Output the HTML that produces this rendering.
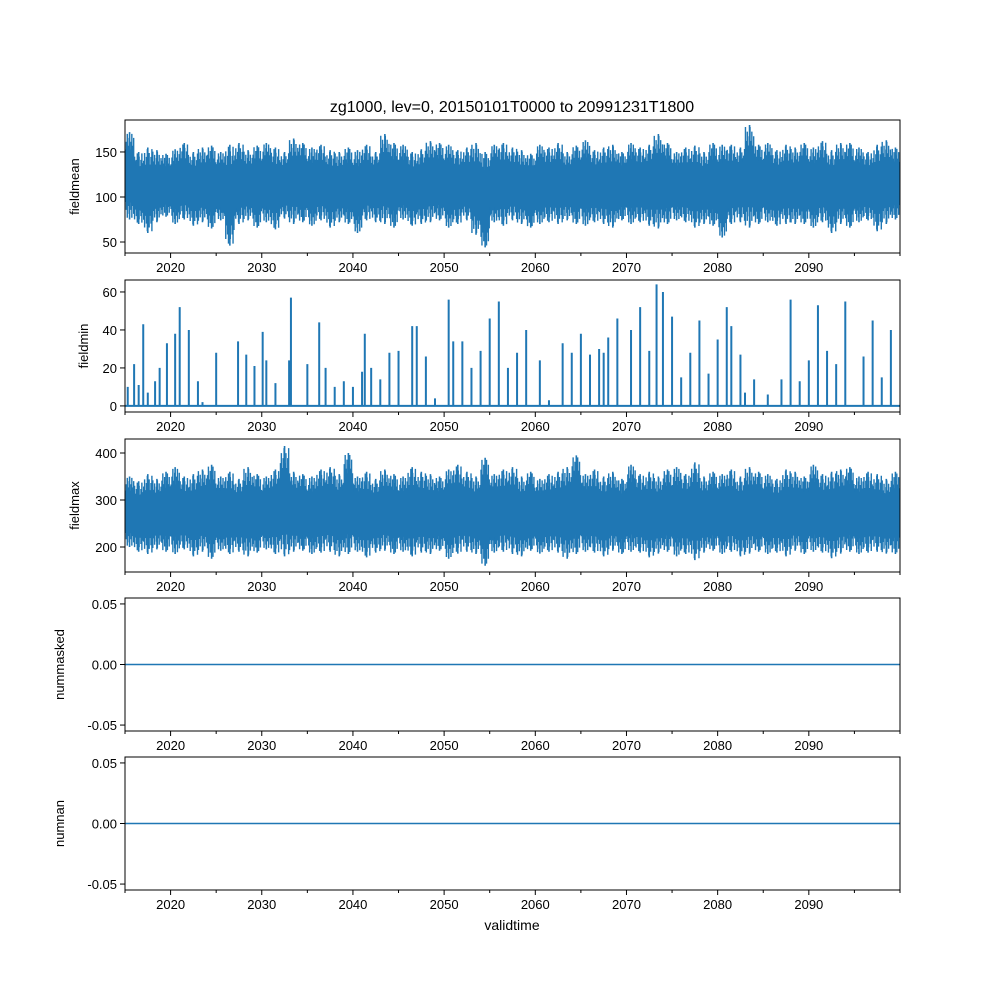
<!DOCTYPE html>
<html><head><meta charset="utf-8"><style>
html,body{margin:0;padding:0;background:#fff}
svg text{font-family:"Liberation Sans","DejaVu Sans",sans-serif;fill:#000}
</style></head><body>
<svg id="chart" width="1000" height="1000" viewBox="0 0 1000 1000" xmlns="http://www.w3.org/2000/svg">
<rect width="1000" height="1000" fill="#fff"/>
<text x="512" y="112" font-size="16" text-anchor="middle">zg1000, lev=0, 20150101T0000 to 20991231T1800</text>
<text x="512" y="930" font-size="14" text-anchor="middle">validtime</text>
</svg>
<script>
// years 2015..2099
const years = [];
for (let y = 2015; y <= 2099; y++) years.push(y);
const meanHigh = [172,150,155,152,148,153,160,150,155,157,150,158,160,152,157,160,155,150,165,160,155,158,152,150,155,152,158,150,170,160,158,150,153,162,160,158,152,155,160,150,158,160,155,152,148,158,155,160,150,157,163,152,155,158,150,160,155,158,170,160,150,155,157,150,160,158,158,155,180,158,160,152,158,155,160,155,162,152,160,160,155,150,158,163,155];
const meanLow = [75,70,60,72,78,70,75,68,72,65,74,46,70,74,66,72,64,76,70,72,68,74,66,72,70,60,74,72,70,66,75,68,70,72,74,66,70,74,58,44,72,68,74,70,66,70,72,70,74,70,68,72,70,66,74,70,72,68,65,70,74,72,66,70,68,55,70,72,66,70,72,68,70,70,70,66,72,60,70,66,72,74,62,70,75];
const minX = [2015.3,2016,2016.5,2017,2017.5,2018.3,2018.8,2019.6,2020.5,2021,2022,2023,2023.5,2025,2027.4,2028.3,2029.2,2030.1,2030.5,2031.5,2033,2033.2,2035,2036.3,2037,2038,2039,2040,2041,2041.3,2042,2043,2044,2045,2046.5,2047,2048,2049,2050.5,2051,2052,2053,2054,2055,2056,2057,2058,2059,2060.5,2061.5,2063,2064,2065,2066,2067,2067.5,2068,2069,2070.5,2071.5,2072.5,2073.3,2074,2075,2076,2077,2078,2079,2080,2081,2081.5,2082.5,2083,2084,2085.5,2087,2088,2089,2090,2091,2092,2093,2094,2096,2097,2098,2099];
const minVal = [10,22,11,43,7,13,20,33,38,52,40,13,2,28,34,27,21,39,24,12,24,57,22,44,20,10,13,10,18,38,20,14,28,29,42,42,26,4,56,34,34,20,29,46,55,20,28,40,24,3,33,28,38,27,30,28,36,46,40,52,29,64,60,47,15,28,45,17,35,52,42,27,7,14,6,14,56,13,24,53,29,22,55,26,45,15,40];
const maxHigh = [350,340,355,345,360,370,350,355,365,375,350,360,345,370,355,350,365,415,360,355,350,365,370,355,400,350,360,345,365,355,350,370,360,355,350,365,375,360,350,390,355,365,370,350,360,345,355,360,370,395,355,365,350,360,345,375,355,360,350,365,370,355,380,350,360,355,365,350,370,360,355,345,365,360,350,375,355,360,365,370,350,360,355,345,360];
const maxLow = [200,190,185,195,190,185,195,180,190,175,192,185,190,180,188,195,185,180,190,192,185,188,190,180,185,190,178,188,192,185,190,180,188,185,192,175,186,190,185,160,188,190,185,180,192,186,190,188,175,185,190,188,180,192,185,190,188,178,186,190,180,185,172,188,192,185,190,180,186,190,185,188,180,192,185,190,188,176,186,190,185,188,190,186,185];
const nummasked = [0, 0];
const numnan = [0, 0];
const xTicks = [2020,2030,2040,2050,2060,2070,2080,2090];
const xMinor = [2015,2025,2035,2045,2055,2065,2075,2085,2095];

const NS = 'http://www.w3.org/2000/svg';
const svg = document.getElementById('chart');
const X0 = 125, X1 = 900, XMIN = 2015, XMAX = 2100;
const C = '#1f77b4';
function xs(v){ return X0 + (v - XMIN) / (XMAX - XMIN) * (X1 - X0); }
function el(tag, attrs, parent){ const e = document.createElementNS(NS, tag); for (const k in attrs) e.setAttribute(k, attrs[k]); (parent||svg).appendChild(e); return e; }

const panels = [
 {name:'fieldmean', top:120, bot:253, ymin:37.8, ymax:185.5, yticks:[50,100,150], fmt:v=>String(v)},
 {name:'fieldmin', top:280, bot:412, ymin:-3.2, ymax:66.3, yticks:[0,20,40,60], fmt:v=>String(v)},
 {name:'fieldmax', top:439, bot:572, ymin:146.8, ymax:429.8, yticks:[200,300,400], fmt:v=>String(v)},
 {name:'nummasked', top:598, bot:731, ymin:-0.0549, ymax:0.0549, yticks:[-0.05,0,0.05], fmt:v=>v.toFixed(2)},
 {name:'numnan', top:757, bot:890, ymin:-0.0549, ymax:0.0549, yticks:[-0.05,0,0.05], fmt:v=>v.toFixed(2)}
];

panels.forEach((p, i) => {
  const g = el('g', {});
  
  
  const ys = v => p.bot - (v - p.ymin) / (p.ymax - p.ymin) * (p.bot - p.top);
  const clip = el('clipPath', {id:'clip'+i}, g);
  el('rect', {x:X0, y:p.top, width:X1-X0, height:p.bot-p.top}, clip);
  const data = el('g', {'clip-path':'url(#clip'+i+')'}, g);
  
  
  if (p.name === 'fieldmean' || p.name === 'fieldmax') {
    const hi = p.name === 'fieldmean' ? meanHigh : maxHigh;
    const lo = p.name === 'fieldmean' ? meanLow : maxLow;
    let d = '';
    years.forEach((y, k) => {
      const x = xs(y + 0.5);
      d += 'M' + x + ' ' + ys(hi[k]) + 'L' + x + ' ' + ys(lo[k]);
    });
    let poly = [];
    years.forEach((y, k) => { const m = (hi[k] + lo[k]) / 2, r = (hi[k] - lo[k]) * 0.3; poly.push(xs(y + 0.5) + ',' + ys(m + r)); });
    for (let k = years.length - 1; k >= 0; k--) { const m = (hi[k] + lo[k]) / 2, r = (hi[k] - lo[k]) * 0.3; poly.push(xs(years[k] + 0.5) + ',' + ys(m - r)); }
    poly.unshift(xs(XMIN) + ',' + ys((hi[0] + lo[0]) / 2 + (hi[0] - lo[0]) * 0.3));
    poly.push(xs(XMIN) + ',' + ys((hi[0] + lo[0]) / 2 - (hi[0] - lo[0]) * 0.3));
    const core = el('polygon', {points: poly.join(' '), fill: C}, data);
    
    
    const sp = el('path', {d: d, stroke: C, 'stroke-width': 1.6, fill: 'none'}, data);
    
    
    let d2 = '';
    years.forEach((y, k) => {
      for (let s = 0; s < 10; s++) {
        const x = xs(y + s / 10 + 0.05);
        const m = (hi[k] + lo[k]) / 2;
        const fr = 0.3 + 0.045 * ((s * 7 + k * 3) % 5);
        const r = (hi[k] - lo[k]) * fr;
        d2 += 'M' + x + ' ' + ys(m + r) + 'L' + x + ' ' + ys(m - r);
      }
    });
    const hatch = el('path', {d: d2, stroke: C, 'stroke-width': 1.4, fill: 'none'}, data);
    
    
  } else if (p.name === 'fieldmin') {
    let d = 'M' + xs(XMIN) + ' ' + ys(0) + 'L' + xs(XMAX) + ' ' + ys(0);
    minX.forEach((x, k) => { d += 'M' + xs(x) + ' ' + ys(0) + 'L' + xs(x) + ' ' + ys(minVal[k]); });
    const sp = el('path', {d: d, stroke: C, 'stroke-width': 2, fill: 'none'}, data);
    
    
  } else {
    const vals = p.name === 'nummasked' ? nummasked : numnan;
    const ln = el('line', {x1: xs(XMIN), x2: xs(XMAX), y1: ys(vals[0]), y2: ys(vals[1]), stroke: C, 'stroke-width': 1.5}, data);
    
    
  }
  const frame = el('rect', {x:X0, y:p.top, width:X1-X0, height:p.bot-p.top, fill:'none', stroke:'#000', 'stroke-width':1}, g);
  
  
  xTicks.forEach(t => {
    el('line', {x1:xs(t), x2:xs(t), y1:p.bot, y2:p.bot+5, stroke:'#000'}, g);
    const tx = el('text', {x:xs(t), y:p.bot+19, 'font-size':13, 'text-anchor':'middle'}, g);
    tx.textContent = t;
    
    
  });
  xMinor.forEach(t => el('line', {x1:xs(t), x2:xs(t), y1:p.bot, y2:p.bot+3, stroke:'#000'}, g));
  el('line', {x1:X1, x2:X1, y1:p.bot, y2:p.bot+3, stroke:'#000'}, g);
  p.yticks.forEach(t => {
    const y = ys(t);
    el('line', {x1:X0-5, x2:X0, y1:y, y2:y, stroke:'#000'}, g);
    const tx = el('text', {x:X0-8, y:y+5, 'font-size':13, 'text-anchor':'end'}, g);
    tx.textContent = p.fmt(t);
    
    
  });
  const lblX = p.name.startsWith('num') ? 64 : (p.name === 'fieldmin' ? 88 : 79);
  const cy = (p.top + p.bot) / 2;
  const lab = el('text', {x:lblX, y:cy, 'font-size':13, 'text-anchor':'middle', transform:'rotate(-90 '+lblX+' '+cy+')'}, g);
  lab.textContent = p.name;
  
  
});
</script>
</body></html>
